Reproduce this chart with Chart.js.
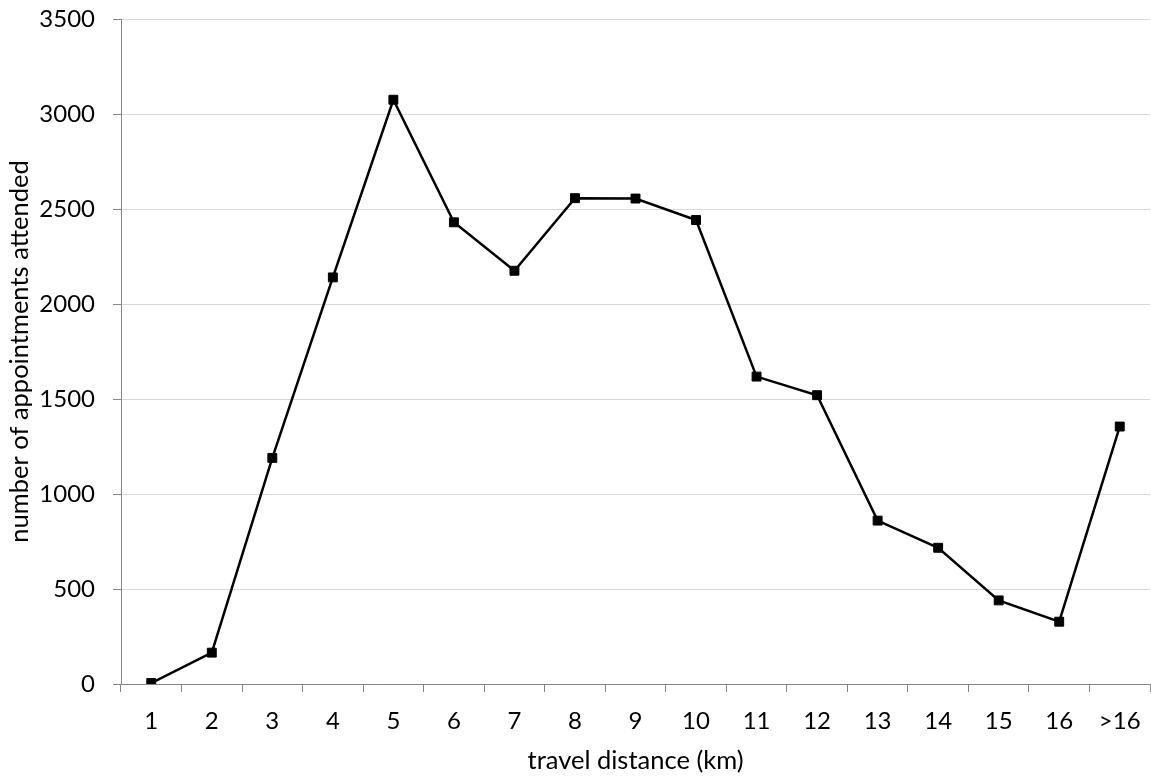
<!DOCTYPE html>
<html>
<head>
<meta charset="utf-8">
<script src="https://cdn.jsdelivr.net/npm/chart.js@4.4.1/dist/chart.umd.min.js"></script>
<style>
  html, body { margin: 0; padding: 0; background: #ffffff; overflow: hidden; }
  #wrap { width: 1151px; height: 776px; position: relative; }
  canvas { display: block; }
</style>
</head>
<body>
<div id="wrap"><canvas id="chart" width="1151" height="776"></canvas></div>
<script>
// Travel distance bands (km)
const distanceLabels = ['1', '2', '3', '4', '5', '6', '7', '8', '9', '10', '11', '12', '13', '14', '15', '16', '>16'];
// Appointments attended per distance band
const appointmentsAttended = [5, 165, 1190, 2140, 3075, 2430, 2175, 2557, 2555, 2442, 1618, 1520, 860, 717, 440, 328, 1355];
// Value axis ticks
const yTicks = [0, 500, 1000, 1500, 2000, 2500, 3000, 3500];

const FONT = 'Lato, "Open Sans", "DejaVu Sans", sans-serif';
const PAD = { top: 19, right: 1, bottom: 0, left: 0 };

new Chart(document.getElementById('chart'), {
  type: 'line',
  data: {
    labels: distanceLabels,
    datasets: [{
      data: appointmentsAttended,
      borderColor: '#000000',
      borderWidth: 2.5,
      backgroundColor: '#000000',
      pointStyle: 'rect',
      pointRadius: 6.3,
      pointBorderWidth: 1,
      pointBorderColor: '#000000',
      pointBackgroundColor: '#000000',
      tension: 0,
      fill: false
    }]
  },
  options: {
    responsive: false,
    animation: false,
    devicePixelRatio: 1,
    layout: { padding: PAD, autoPadding: false },
    plugins: {
      legend: { display: false },
      tooltip: { enabled: false }
    },
    scales: {
      x: {
        type: 'category',
        offset: true,
        grid: {
          offset: true,
          drawOnChartArea: false,
          drawTicks: true,
          tickLength: 8,
          tickColor: '#868686',
          tickWidth: 1
        },
        border: { display: true, color: '#868686', width: 1 },
        ticks: {
          color: '#000000',
          font: { family: FONT, size: 24 },
          padding: 15,
          maxRotation: 0,
          autoSkip: false
        },
        title: {
          display: true,
          text: 'travel distance (km)',
          color: '#000000',
          font: { family: FONT, size: 25.5 },
          padding: { top: 0, bottom: 0 }
        },
        afterFit(scale) {
          scale.height = 776 - 684 - PAD.bottom;
          scale.paddingLeft = 0;
          scale.paddingRight = 0;
        }
      },
      y: {
        min: 0,
        max: 3500,
        afterBuildTicks(scale) { scale.ticks = yTicks.map(v => ({ value: v })); },
        grid: {
          color: '#d9d9d9',
          lineWidth: 1,
          drawTicks: true,
          tickLength: 8,
          tickColor: '#868686'
        },
        border: { display: true, color: '#868686', width: 1 },
        ticks: {
          color: '#000000',
          font: { family: FONT, size: 24 },
          padding: 18,
          callback: v => String(v)
        },
        title: {
          display: true,
          text: 'number of appointments attended',
          color: '#000000',
          font: { family: FONT, size: 25.5 },
          padding: { top: 4, bottom: 0 }
        },
        afterFit(scale) {
          scale.width = 121 - PAD.left;
          scale.paddingTop = 0;
          scale.paddingBottom = 0;
        }
      }
    }
  }
});
</script>
</body>
</html>
